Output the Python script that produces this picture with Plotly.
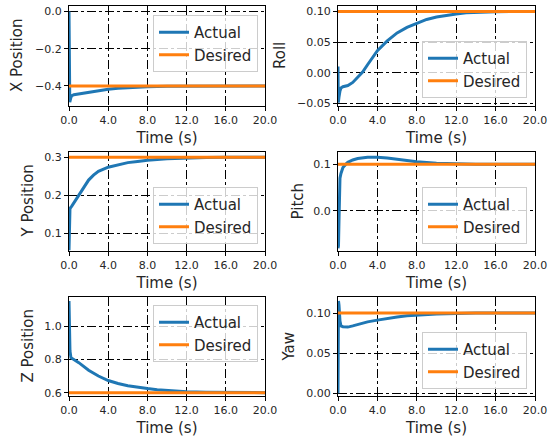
import plotly.graph_objects as go

# ---------------- data ----------------
t_x = [0, 0.03, 0.08, 0.2, 0.3, 0.5, 1, 2, 3, 4, 5, 6, 8, 10, 12, 14, 16, 18, 20]
x_actual = [0.0, -0.35, -0.487, -0.46, -0.452, -0.447, -0.443, -0.432, -0.424, -0.418,
            -0.413, -0.409, -0.404, -0.402, -0.401, -0.400, -0.400, -0.400, -0.400]
x_desired = -0.4

t_roll = [0, 0.03, 0.1, 0.2, 0.3, 0.5, 1, 1.5, 2, 2.5, 3, 3.5, 4, 5, 6, 7, 8, 9, 10,
          11, 12, 13, 14, 16, 18, 20]
roll_actual = [0.01, -0.049, -0.04, -0.03, -0.025, -0.023, -0.021, -0.016, -0.008, 0.001,
               0.013, 0.025, 0.036, 0.052, 0.065, 0.074, 0.081, 0.087, 0.091,
               0.094, 0.096, 0.098, 0.099, 0.0998, 0.1, 0.1]
roll_desired = 0.1

t_y = [0, 0.1, 0.3, 0.5, 1, 1.5, 2, 2.5, 3, 4, 5, 6, 7, 8, 10, 12, 14, 16, 20]
y_actual = [0.055, 0.165, 0.172, 0.18, 0.2, 0.222, 0.24, 0.253, 0.263, 0.274, 0.281,
            0.286, 0.289, 0.292, 0.296, 0.298, 0.2995, 0.3, 0.3]
y_desired = 0.3

t_pitch = [0, 0.05, 0.1, 0.15, 0.2, 0.3, 0.5, 0.8, 1, 1.5, 2, 3, 3.5, 4, 5, 6, 7, 8,
           10, 12, 14, 20]
pitch_actual = [-0.08, -0.075, -0.02, 0.04, 0.07, 0.08, 0.093, 0.1, 0.104, 0.109, 0.112,
                0.115, 0.1155, 0.115, 0.113, 0.110, 0.107, 0.105, 0.102, 0.1005, 0.1, 0.1]
pitch_desired = 0.1

t_z = [0, 0.05, 0.1, 0.2, 0.5, 1, 2, 3, 4, 5, 6, 7, 8, 9, 10, 12, 14, 16, 20]
z_actual = [1.15, 1.0, 0.85, 0.81, 0.8, 0.78, 0.735, 0.70, 0.673, 0.655, 0.642, 0.632,
            0.625, 0.618, 0.613, 0.606, 0.603, 0.601, 0.6]
z_desired = 0.6

t_yaw = [0, 0.05, 0.1, 0.2, 0.3, 0.5, 1, 1.5, 2, 3, 4, 5, 6, 7, 8, 10, 12, 14, 20]
yaw_actual = [0.0, 0.115, 0.11, 0.09, 0.084, 0.083, 0.0825, 0.084, 0.086, 0.089, 0.0912,
              0.0935, 0.095, 0.0965, 0.0975, 0.0988, 0.0995, 0.1, 0.1]
yaw_desired = 0.1

t_span = [0, 20]
x_ticks = [0, 4, 8, 12, 16, 20]

W, H = 548, 445

panels = [
    # name, t, actual, desired, yrange, dtick, fmt, domain px (x0,x1,y0,y1), legend (x_right, y_px, anchor), y-title x px
    ("X Position", t_x, x_actual, x_desired, [-0.508, 0.03], 0.2, ".1f", (69, 265, 6, 106), (258, 15, "top"), 17),
    ("Roll", t_roll, roll_actual, roll_desired, [-0.0545, 0.109], 0.05, ".2f", (338, 535, 6, 106), (527, 98, "bottom"), 280),
    ("Y Position", t_y, y_actual, y_desired, [0.053, 0.314], 0.1, ".1f", (69, 265, 152, 251), (258, 244, "bottom"), 27),
    ("Pitch", t_pitch, pitch_actual, pitch_desired, [-0.086, 0.126], 0.1, ".1f", (338, 535, 152, 251), (527, 244, "bottom"), 297),
    ("Z Position", t_z, z_actual, z_desired, [0.58, 1.174], 0.2, ".1f", (69, 265, 297, 396), (258, 305, "top"), 27),
    ("Yaw", t_yaw, yaw_actual, yaw_desired, [-0.0034, 0.120], 0.05, ".2f", (338, 535, 297, 396), (527, 389, "bottom"), 288),
]

BLUE = "#1f77b4"
ORANGE = "#ff7f0e"
FONT = "DejaVu Sans"
TXT = "#262626"

fig = go.Figure()
layout = dict(
    width=W, height=H,
    margin=dict(l=0, r=0, t=0, b=0, autoexpand=False),
    paper_bgcolor="white", plot_bgcolor="white",
    font=dict(family=FONT, color=TXT, size=11),
    showlegend=True,
)
annotations = []

for i, (name, t, act, des, yr, dt, fmt, dom, leg, tx) in enumerate(panels, start=1):
    xa = "x" if i == 1 else f"x{i}"
    ya = "y" if i == 1 else f"y{i}"
    lg = "legend" if i == 1 else f"legend{i}"
    fig.add_trace(go.Scatter(x=t, y=act, mode="lines", name="Actual",
                             line=dict(color=BLUE, width=3), xaxis=xa, yaxis=ya, legend=lg))
    fig.add_trace(go.Scatter(x=t_span, y=[des, des], mode="lines", name="Desired",
                             line=dict(color=ORANGE, width=3), xaxis=xa, yaxis=ya, legend=lg))
    x0, x1, y0, y1 = dom
    axis_common = dict(
        showline=True, mirror=True, linecolor="black", linewidth=1,
        ticks="outside", ticklen=4, tickcolor="black",
        showgrid=True, gridcolor="black", griddash="dashdot", gridwidth=1,
        zeroline=False, automargin=False,
        tickfont=dict(size=11, family=FONT, color=TXT),
    )
    layout["xaxis" if i == 1 else f"xaxis{i}"] = dict(
        axis_common, domain=[x0 / W, x1 / W], range=[0, 20],
        tickvals=x_ticks, tickformat=".1f", anchor=ya,
        title=dict(text="Time (s)", font=dict(size=15, family=FONT, color=TXT), standoff=6),
    )
    layout["yaxis" if i == 1 else f"yaxis{i}"] = dict(
        axis_common, domain=[1 - y1 / H, 1 - y0 / H], range=yr,
        dtick=dt, tick0=0, tickformat=fmt, anchor=xa,
    )
    annotations.append(dict(
        text=name, textangle=-90, xref="paper", yref="paper",
        x=tx / W, y=1 - (y0 + y1) / 2 / H, xanchor="center", yanchor="middle",
        showarrow=False, font=dict(size=15, family=FONT, color=TXT),
    ))
    lx, ly, anc = leg
    layout[lg] = dict(
        x=lx / W, y=1 - ly / H, xanchor="right", yanchor=anc,
        xref="paper", yref="paper",
        bgcolor="rgba(255,255,255,0.8)", bordercolor="#cccccc", borderwidth=1,
        font=dict(size=15, family=FONT, color=TXT),
        tracegroupgap=0, itemwidth=30,
    )

layout["annotations"] = annotations
fig.update_layout(**layout)
fig.write_html("out.html", config={"displayModeBar": False},
               post_script="document.body.style.margin='0';document.body.style.overflow='hidden';")
